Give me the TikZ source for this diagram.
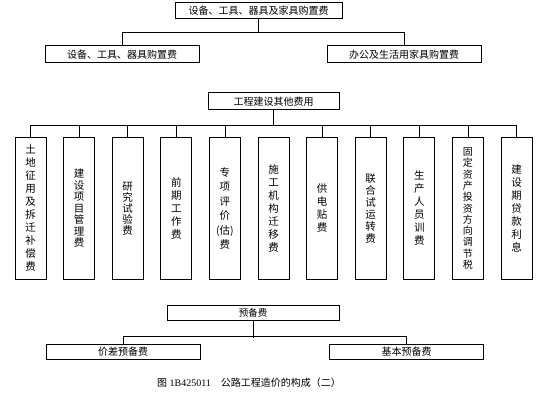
\documentclass[tikz,border=0pt]{standalone}
\usepackage{fontspec}
\setmainfont{Liberation Serif}
\newfontfamily\cjk{Noto Sans CJK SC}
\usepackage{tikz}
\usetikzlibrary{positioning, calc}

\tikzset{
  box/.style={draw, line width=1pt, inner sep=0pt, font=\cjk\fontsize{10}{12}\selectfont},
  colbox/.style={draw, line width=1pt, inner sep=0pt, minimum width=31pt, minimum height=141pt,
    align=center, font=\cjk\fontsize{10.5}{13}\selectfont},
  link/.style={line width=0.6pt}
}

\begin{document}
\begin{tikzpicture}[x=1pt,y=-1pt]
  \useasboundingbox (0,0) rectangle (546,406);

  % 设备、工具、器具及家具购置费
  \node[box, minimum width=167pt, minimum height=16pt] (sb) at (258.5,11) {设备、工具、器具及家具购置费};
  \node[box, minimum width=154pt, minimum height=17pt] (sbgj) at (122,54.5) {设备、工具、器具购置费};
  \node[box, minimum width=154pt, minimum height=17pt] (bgsh) at (404,54.5) {办公及生活用家具购置费};
  \draw[link] (sb.south) -- ++(0,14);
  \draw[link] (sbgj.north) -- ++(0,-13) -| (bgsh.north);

  % 工程建设其他费用
  \node[box, minimum width=131pt, minimum height=17pt] (qt) at (273.5,101.5) {工程建设其他费用};
  \node[colbox] (c1) at (30.5,208.5) {土\\地\\征\\用\\及\\拆\\迁\\补\\偿\\费};
  \node[colbox, font=\cjk\fontsize{10.5}{11.5}\selectfont] (c2) at (79.1,208.5) {建\\设\\项\\目\\管\\理\\费};
  \node[colbox, font=\cjk\fontsize{10.5}{11}\selectfont] (c3) at (127.7,208.5) {研\\究\\试\\验\\费};
  \node[colbox] (c4) at (176.3,208.5) {前\\期\\工\\作\\费};
  \node[colbox, font=\cjk\fontsize{10.5}{14.5}\selectfont] (c5) at (224.9,208.5) {专\\项\\评\\价\\(估)\\费};
  \node[colbox] (c6) at (273.5,208.5) {施\\工\\机\\构\\迁\\移\\费};
  \node[colbox] (c7) at (322.1,208.5) {供\\电\\贴\\费};
  \node[colbox, font=\cjk\fontsize{10.5}{12}\selectfont] (c8) at (370.7,208.5) {联\\合\\试\\运\\转\\费};
  \node[colbox] (c9) at (419.3,208.5) {生\\产\\人\\员\\训\\费};
  \node[colbox, font=\cjk\fontsize{10}{11.3}\selectfont] (c10) at (467.9,208.5) {固\\定\\资\\产\\投\\资\\方\\向\\调\\节\\税};
  \node[colbox] (c11) at (516.5,208.5) {建\\设\\期\\贷\\款\\利\\息};
  \draw[link] (qt.south) -- ++(0,16);
  \draw[link] (c1.north) -- ++(0,-12) -| (c11.north);
  \draw[link] (c2.north) -- ++(0,-12);
  \draw[link] (c3.north) -- ++(0,-12);
  \draw[link] (c4.north) -- ++(0,-12);
  \draw[link] (c5.north) -- ++(0,-12);
  \draw[link] (c7.north) -- ++(0,-12);
  \draw[link] (c8.north) -- ++(0,-12);
  \draw[link] (c9.north) -- ++(0,-12);
  \draw[link] (c10.north) -- ++(0,-12);

  % 预备费
  \node[box, minimum width=172pt, minimum height=15pt, font=\cjk\fontsize{9.5}{11}\selectfont] (yb) at (253,312.5) {预备费};
  \node[box, minimum width=154pt, minimum height=15pt] (jc) at (123,351.5) {价差预备费};
  \node[box, minimum width=154pt, minimum height=15pt] (jb) at (406.5,351.5) {基本预备费};
  \draw[link] (yb.south) -- ++(0,17);
  \draw[link] (jc.north) -- ++(0,-7) -| (jb.north);

  % 图题
  \node[font=\fontsize{10}{12}\selectfont] (cap) at (249,383) {{\cjk 图}\ 1B425011\quad{\cjk 公路工程造价的构成（二）}};
\end{tikzpicture}
\end{document}
